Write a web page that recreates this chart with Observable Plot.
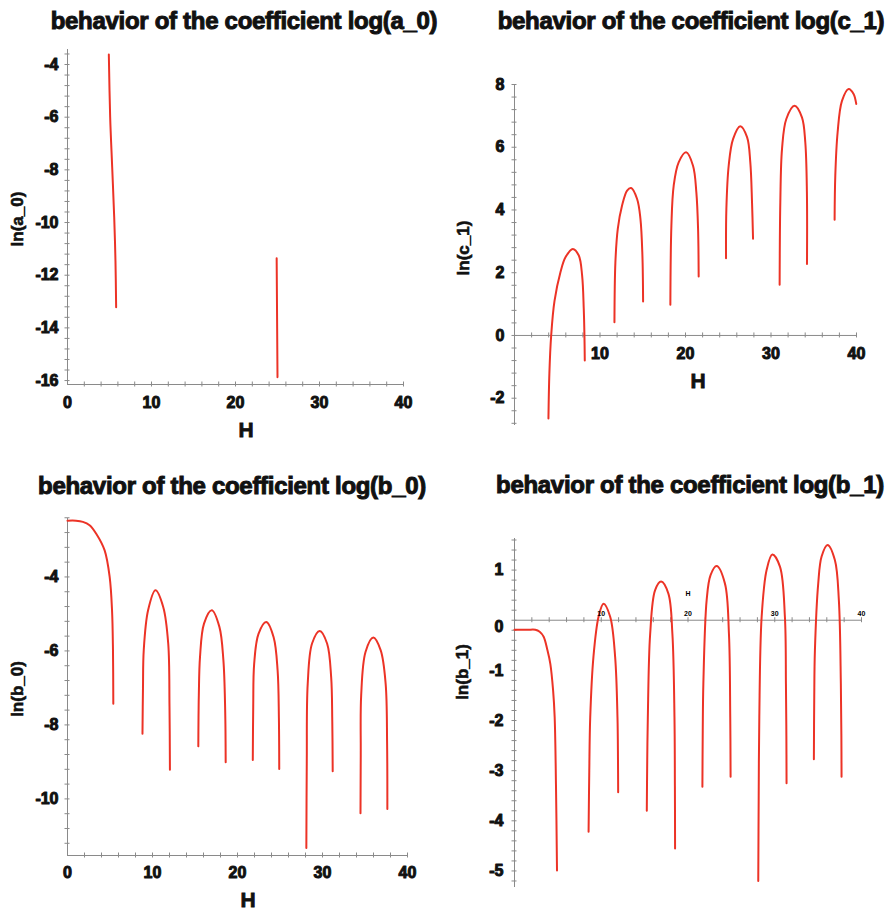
<!DOCTYPE html>
<html>
<head>
<meta charset="utf-8">
<script src="https://cdn.jsdelivr.net/npm/d3@7"></script>
<script src="https://cdn.jsdelivr.net/npm/@observablehq/plot@0.6"></script>
<style>
  html, body { margin: 0; padding: 0; background: #fff; }
  #root { position: relative; width: 896px; height: 912px; overflow: hidden; font-family: "Liberation Sans", Arial, sans-serif; }
  .panel { position: absolute; }
  .title { position: absolute; transform: translateX(-50%); white-space: nowrap; font-weight: bold; font-size: 24px; line-height: 1; color: #111; -webkit-text-stroke: 1px #111; letter-spacing: -0.3px; }
  .xlab { position: absolute; transform: translateX(-50%); font-weight: bold; font-size: 21px; line-height: 1; color: #111; -webkit-text-stroke: 0.8px #111; }
  .ylab { position: absolute; transform: translate(-50%, -50%) rotate(-90deg); white-space: nowrap; font-weight: bold; font-size: 17px; line-height: 1; color: #111; -webkit-text-stroke: 0.6px #111; }
</style>
</head>
<body>
<div id="root"></div>
<script>
// ---------- data ----------
const titles = [
  "behavior of the coefficient log(a_0)",
  "behavior of the coefficient log(c_1)",
  "behavior of the coefficient log(b_0)",
  "behavior of the coefficient log(b_1)"
];
const yLabels = ["ln(a_0)", "ln(c_1)", "ln(b_0)", "ln(b_1)"];
const xLabel = "H";

const xTicksAll = [0, 10, 20, 30, 40];
const xTicksNoZero = [10, 20, 30, 40];
const a0YTicks = [-4, -6, -8, -10, -12, -14, -16];
const c1YTicks = [8, 6, 4, 2, 0, -2];
const b0YTicks = [-4, -6, -8, -10];
const b1YTicks = [1, 0, -1, -2, -3, -4, -5];

// ln(a_0) vs H : two short branches
const a0Segments = [
  [[4.92,-3.62],[5.08,-6.0],[5.32,-7.9],[5.56,-9.8],[5.71,-11.45],[5.79,-13.22]],
  [[24.9,-11.36],[25.0,-15.87]]
];

// ln(c_1) vs H
const c1Segments = [
  [[3.97,-2.65],[4.08,-1.2],[4.29,0],[4.68,1.1],[5.38,2.02],[5.96,2.49],[6.82,2.76],[7.52,2.55],[7.91,1.91],[8.1,0.85],[8.18,0],[8.22,-0.8]],
  [[11.69,0.42],[11.8,2.33],[12.08,3.4],[12.58,4.14],[13.17,4.62],[13.64,4.70],[14.34,4.35],[14.73,3.72],[14.96,2.55],[15.04,1.08]],
  [[18.23,0.98],[18.35,3.5],[18.62,4.78],[19.2,5.52],[20.07,5.84],[20.88,5.41],[21.27,4.56],[21.47,3.4],[21.54,1.88]],
  [[24.74,2.46],[24.78,4.03],[25.05,5.41],[25.56,6.26],[26.41,6.67],[27.2,6.32],[27.58,5.52],[27.78,4.25],[27.9,3.08]],
  [[31.01,1.62],[31.09,4.25],[31.29,5.95],[31.79,6.9],[32.76,7.32],[33.62,6.95],[34.01,6.16],[34.2,4.56],[34.21,2.28]],
  [[37.44,3.69],[37.52,5.1],[37.79,6.47],[38.3,7.48],[39.08,7.86],[39.66,7.7],[39.97,7.38]]
];

// ln(b_0) vs H
const b0Segments = [
  [[0,-2.48],[1,-2.48],[1.81,-2.51],[2.6,-2.6],[3.38,-2.83],[4.37,-3.28],[4.96,-4.0],[5.24,-4.9],[5.35,-5.98],[5.39,-7.43]],
  [[8.82,-8.24],[8.88,-7.0],[8.97,-5.98],[9.48,-4.9],[10.35,-4.36],[11.26,-4.81],[11.85,-5.8],[12.0,-7.5],[12.05,-9.21]],
  [[15.39,-8.58],[15.45,-7.2],[15.59,-6.16],[16.06,-5.26],[16.97,-4.9],[17.87,-5.35],[18.34,-6.25],[18.55,-7.6],[18.61,-9.01]],
  [[21.8,-8.95],[21.85,-7.5],[21.96,-6.35],[22.47,-5.54],[23.38,-5.22],[24.25,-5.63],[24.72,-6.53],[24.87,-7.8],[24.91,-9.19]],
  [[28.1,-11.33],[28.15,-9.0],[28.26,-6.89],[28.77,-5.8],[29.67,-5.46],[30.54,-5.8],[31.02,-6.71],[31.15,-7.9],[31.2,-9.25]],
  [[34.47,-10.39],[34.5,-8.8],[34.55,-7.2],[35.06,-6.03],[35.97,-5.64],[36.84,-5.98],[37.43,-6.89],[37.6,-8.5],[37.63,-10.27]]
];

// ln(b_1) vs H
const b1Segments = [
  [[0,-0.19],[1.5,-0.19],[2.4,-0.19],[2.9,-0.23],[3.36,-0.33],[3.8,-0.6],[4.13,-0.87],[4.45,-1.4],[4.63,-1.93],[4.78,-3.27],[4.9,-4.99]],
  [[8.54,-4.22],[8.62,-3.0],[8.73,-1.93],[9.1,-0.73],[9.69,0.07],[10.26,0.33],[11.03,0.07],[11.6,-0.73],[11.87,-1.93],[11.93,-2.8],[11.95,-3.43]],
  [[15.25,-3.8],[15.3,-2.8],[15.37,-1.93],[15.64,-0.27],[16.21,0.6],[16.9,0.77],[17.74,0.53],[18.2,-0.27],[18.44,-1.93],[18.49,-3.3],[18.51,-4.55]],
  [[21.66,-3.32],[21.7,-2.2],[21.77,-1.27],[22.15,0.4],[22.6,0.9],[23.3,1.08],[24.26,0.73],[24.72,-0.27],[24.87,-1.93],[24.91,-3.12]],
  [[28.1,-5.2],[28.15,-3.5],[28.22,-1.93],[28.49,0.07],[29.06,1.0],[29.72,1.31],[30.6,1.07],[31.17,0.07],[31.29,-1.27],[31.34,-2.3],[31.36,-3.25]],
  [[34.51,-2.77],[34.55,-1.6],[34.63,-0.6],[35.01,0.73],[35.4,1.27],[36.09,1.5],[36.93,1.2],[37.39,0.4],[37.62,-1.27],[37.68,-2.3],[37.7,-3.12]]
];

// ---------- styling ----------
const RED = "#ec3326";
const AXIS = "#8a8a8a";
const FONT = "'Liberation Sans', Arial, sans-serif";

function steps(start, stop, step) {
  const n = Math.round((stop - start) / step);
  return d3.range(n + 1).map(i => +(start + i * step).toFixed(3));
}
function rows(segments) {
  return segments.flatMap((seg, i) => seg.map(([h, v]) => ({h, v, seg: i})));
}

function makePanel(cfg) {
  const xDomain = [0, 40];
  const xAxisY = cfg.xAxisY;
  const big = cfg.xTickSize > 10;
  const marks = [
    Plot.ruleY([xAxisY], {x1: xDomain[0], x2: xDomain[1], stroke: AXIS, strokeWidth: 1}),
    Plot.ruleX([0], {y1: cfg.yDomain[0], y2: cfg.yDomain[1], stroke: AXIS, strokeWidth: 1}),
    Plot.ruleY(cfg.yMinor, {y: d => d, x1: 0, x2: 0, insetLeft: -2.5, insetRight: -2.5, stroke: AXIS}),
    Plot.ruleX(steps(2, 40, 2), {x: d => d, y1: xAxisY, y2: xAxisY, insetTop: -2.5, insetBottom: -2.5, stroke: AXIS}),
    Plot.line(rows(cfg.segments), {x: "h", y: "v", z: "seg", stroke: RED, strokeWidth: 2, curve: "catmull-rom"}),
    big
      ? Plot.text(cfg.xTicks, {x: d => d, y: xAxisY, dy: cfg.xTickDy, text: d => String(d), fontSize: cfg.xTickSize, fontWeight: "bold", fill: "#111", stroke: "#111", strokeWidth: 1})
      : Plot.text(cfg.xTicks, {x: d => d, y: xAxisY, dy: cfg.xTickDy, text: d => String(d), fontSize: cfg.xTickSize, fontWeight: "bold", fill: "#000"})
  ];
  const yMain = cfg.yTicks.filter(d => !(cfg.zeroShift && d === 0));
  marks.push(Plot.text(yMain, {x: 0, y: d => d, dx: cfg.yTickDx, textAnchor: "end", text: d => String(d), fontSize: 16, fontWeight: "bold", fill: "#111", stroke: "#111", strokeWidth: 1}));
  if (cfg.zeroShift) {
    marks.push(Plot.text([0], {x: 0, y: d => d, dx: cfg.yTickDx, dy: cfg.zeroShift, textAnchor: "end", text: d => String(d), fontSize: 16, fontWeight: "bold", fill: "#111", stroke: "#111", strokeWidth: 1}));
  }
  if (cfg.innerXLabel) {
    marks.push(Plot.text([xLabel], {x: (xDomain[0] + xDomain[1]) / 2, y: xAxisY, dy: cfg.innerXLabel, text: d => d, fontSize: 7, fontWeight: "bold", fill: "#000"}));
  }
  const svg = Plot.plot({
    width: cfg.width, height: cfg.height,
    marginLeft: cfg.m[0], marginRight: cfg.m[1], marginTop: cfg.m[2], marginBottom: cfg.m[3],
    x: {domain: xDomain, axis: null},
    y: {domain: cfg.yDomain, axis: null},
    style: {fontFamily: FONT, background: "transparent", overflow: "visible"},
    marks
  });
  const wrap = document.createElement("div");
  wrap.className = "panel";
  wrap.style.left = cfg.left + "px";
  wrap.style.top = cfg.top + "px";
  wrap.appendChild(svg);
  root.appendChild(wrap);

  const t = document.createElement("div");
  t.className = "title";
  t.textContent = cfg.title;
  t.style.left = cfg.titlePos[0] + "px";
  t.style.top = cfg.titlePos[1] + "px";
  root.appendChild(t);

  const yl = document.createElement("div");
  yl.className = "ylab";
  yl.textContent = cfg.yLabel;
  yl.style.left = cfg.yLabelPos[0] + "px";
  yl.style.top = cfg.yLabelPos[1] + "px";
  root.appendChild(yl);

  if (cfg.xLabelPos) {
    const xl = document.createElement("div");
    xl.className = "xlab";
    xl.textContent = xLabel;
    xl.style.left = cfg.xLabelPos[0] + "px";
    xl.style.top = cfg.xLabelPos[1] + "px";
    root.appendChild(xl);
  }
}

const root = document.getElementById("root");

makePanel({
  left: 0, top: 0, width: 448, height: 450, m: [67, 45, 49, 66],
  yDomain: [-16.15, -3.43], xAxisY: -16.15,
  yTicks: a0YTicks, yMinor: steps(-16, -3.6, 0.4), yTickDx: -9,
  xTicks: xTicksAll, xTickDy: 18, xTickSize: 16,
  segments: a0Segments, title: titles[0], titlePos: [244, 9],
  yLabel: yLabels[0], yLabelPos: [17, 219], xLabelPos: [246, 419]
});
makePanel({
  left: 448, top: 0, width: 448, height: 450, m: [66, 40, 84, 25],
  yDomain: [-2.87, 8], xAxisY: 0,
  yTicks: c1YTicks, yMinor: steps(-2.8, 8, 0.4), yTickDx: -10,
  xTicks: xTicksNoZero, xTickDy: 18, xTickSize: 16,
  segments: c1Segments, title: titles[1], titlePos: [691, 9],
  yLabel: yLabels[1], yLabelPos: [463, 248], xLabelPos: [698, 370]
});
makePanel({
  left: 0, top: 450, width: 448, height: 462, m: [67, 41, 68, 57],
  yDomain: [-11.53, -2.42], xAxisY: -11.53,
  yTicks: b0YTicks, yMinor: steps(-11.2, -2.4, 0.4), yTickDx: -9,
  xTicks: xTicksAll, xTickDy: 17, xTickSize: 16,
  segments: b0Segments, title: titles[2], titlePos: [232, 474],
  yLabel: yLabels[2], yLabelPos: [17, 689], xLabelPos: [248, 889]
});
makePanel({
  left: 448, top: 450, width: 448, height: 462, m: [66, 35, 88, 25],
  yDomain: [-5.33, 1.63], xAxisY: 0,
  yTicks: b1YTicks, yMinor: steps(-5.2, 1.6, 0.2), yTickDx: -11, zeroShift: 7,
  xTicks: xTicksNoZero, xTickDy: -6, xTickSize: 7, innerXLabel: -26,
  segments: b1Segments, title: titles[3], titlePos: [690, 473],
  yLabel: yLabels[3], yLabelPos: [462, 672]
});
</script>
</body>
</html>
